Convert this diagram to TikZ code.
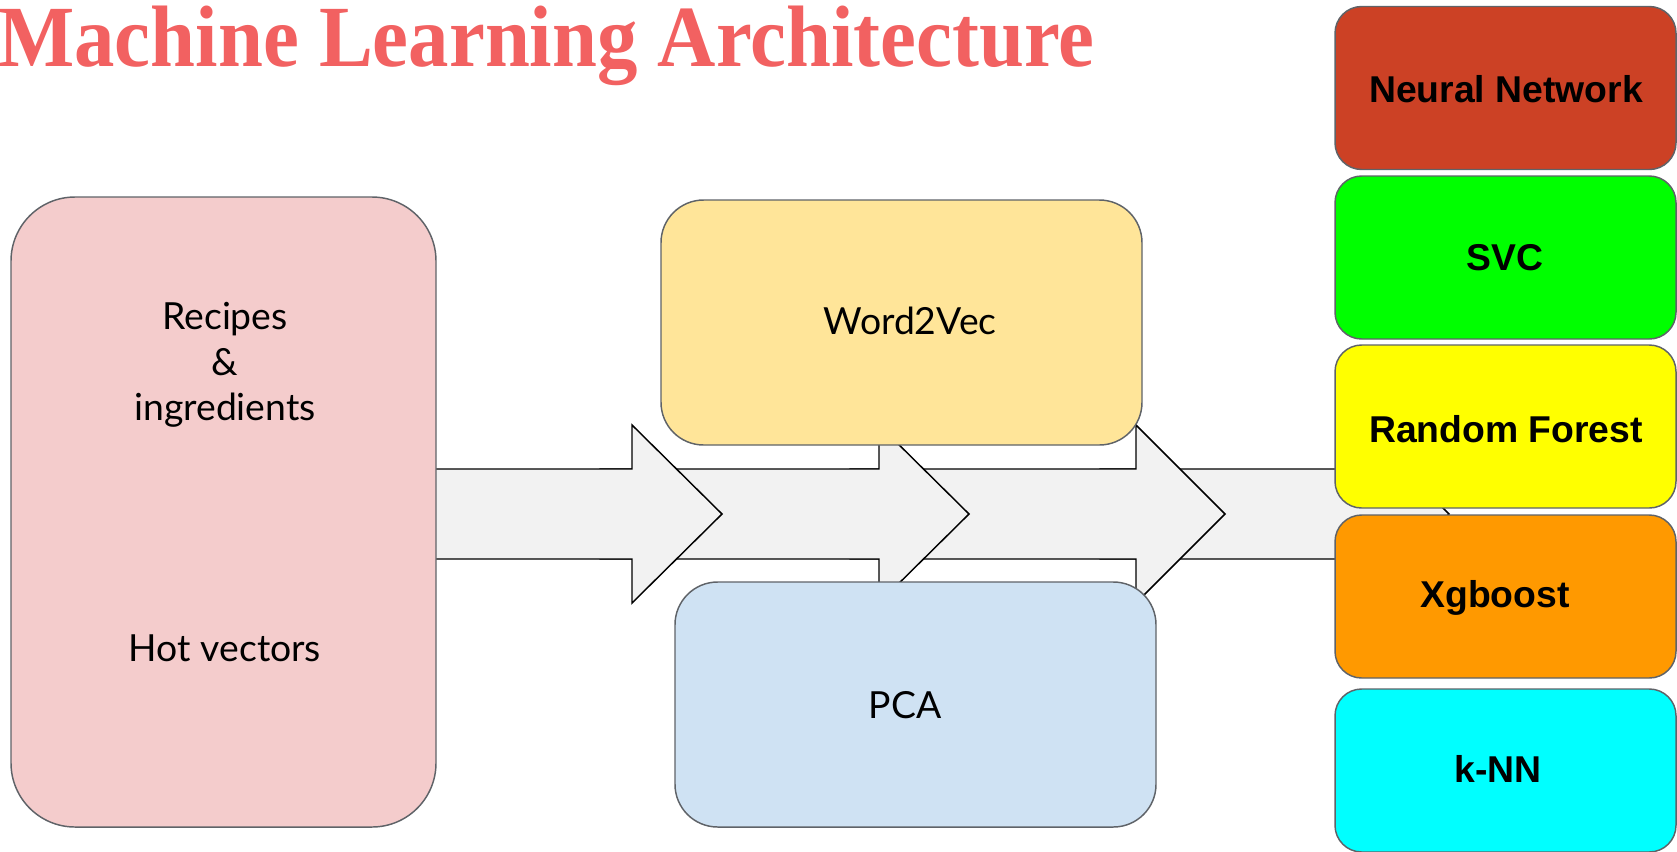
\documentclass[tikz,border=0pt]{standalone}
\usepackage{fontspec}
\setmainfont{Lato}
\newfontfamily\arialb{Liberation Sans}
\newfontfamily\titlefont{Liberation Serif}
\definecolor{titlered}{HTML}{F26161}
\definecolor{pinkbox}{HTML}{F4CCCC}
\definecolor{yellowbox}{HTML}{FFE599}
\definecolor{bluebox}{HTML}{CFE2F3}
\definecolor{nncol}{HTML}{CC4125}
\definecolor{svccol}{HTML}{00FF00}
\definecolor{rfcol}{HTML}{FFFF00}
\definecolor{xgcol}{HTML}{FF9900}
\definecolor{knncol}{HTML}{00FFFF}
\definecolor{arrowfill}{HTML}{F2F2F2}
\definecolor{edgegray}{HTML}{5F6368}
\begin{document}
\begin{tikzpicture}[x=0.75pt,y=-0.75pt,
  bigbox/.style={draw=edgegray,line width=1.1pt,rounded corners=#1},
  model/.style={draw=edgegray,line width=1.1pt,rounded corners=20pt,minimum width=255.75pt,minimum height=122.25pt,inner sep=0pt},
  modeltext/.style={font=\arialb\bfseries\fontsize{28}{32}\selectfont,inner sep=0pt},
  lbl/.style={font=\fontsize{28}{34}\selectfont,align=center,inner sep=0pt},
  blockarrow/.style={draw=black,fill=arrowfill,line width=1.1pt,line join=miter}]
\useasboundingbox (0,0) rectangle (1677,851);
% block arrows (drawn back to front)
\draw[blockarrow] (1100,469) -- (1360,469) -- (1360,425) -- (1449,514) -- (1360,603) -- (1360,559) -- (1100,559) -- cycle;
\draw[blockarrow] (850,469) -- (1136,469) -- (1136,425) -- (1225,514) -- (1136,603) -- (1136,559) -- (850,559) -- cycle;
\draw[blockarrow] (600,469) -- (879,469) -- (879,425) -- (969,514) -- (879,603) -- (879,559) -- (600,559) -- cycle;
\draw[blockarrow] (420,469) -- (632,469) -- (632,425) -- (722,514) -- (632,603) -- (632,559) -- (420,559) -- cycle;
% boxes
\node[bigbox=48pt,fill=pinkbox,minimum width=318.75pt,minimum height=472.5pt] (input) at (223.5,512) {};
\node[lbl] (recipes) at (225,365) {Recipes\\\&\\ingredients};
\node[lbl] (hot) at (225,648) {Hot vectors};
\node[bigbox=32pt,fill=yellowbox,minimum width=360.75pt,minimum height=183.75pt] (w2v) at (901.5,322.5) {};
\node[lbl] (w2vt) at (910,321) {Word2Vec};
\node[bigbox=32pt,fill=bluebox,minimum width=360.75pt,minimum height=183.75pt] (pca) at (915.5,704.5) {};
\node[lbl] (pcat) at (905,705) {PCA};
% models
\node[model,fill=nncol] (nn) at (1505.5,88) {};
\node[model,fill=svccol] (svc) at (1505.5,257.5) {};
\node[model,fill=rfcol] (rf) at (1505.5,426.5) {};
\node[model,fill=xgcol] (xg) at (1505.5,596.5) {};
\node[model,fill=knncol] (knn) at (1505.5,770.5) {};
\node[modeltext] (nnt) at (1506,89) {Neural Network};
\node[modeltext] (svct) at (1505,258) {SVC};
\node[modeltext] (rft) at (1506,429) {Random Forest};
\node[modeltext] (xgt) at (1495,598) {Xgboost};
\node[modeltext] (knnt) at (1498,769) {k-NN};
% title
\node[anchor=base west,inner sep=0pt,text=titlered] (title) at (-2,66) {\scalebox{1}[1.08]{\resizebox{822pt}{!}{\titlefont\bfseries Machine Learning Architecture}}};
\end{tikzpicture}
\end{document}
